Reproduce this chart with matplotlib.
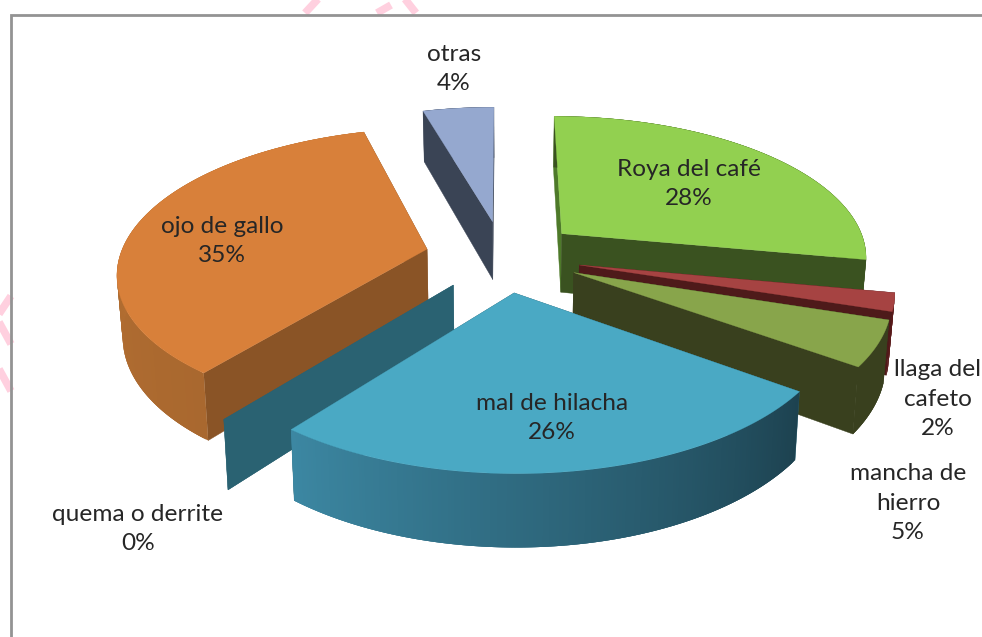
import numpy as np
import matplotlib
matplotlib.use("Agg")
import matplotlib.pyplot as plt
from matplotlib.colors import to_rgb

# ---- data (clockwise from 12 o'clock) ----
categories = ["Roya del café", "llaga del\ncafeto", "mancha de\nhierro",
              "mal de hilacha", "quema o derrite", "ojo de gallo", "otras"]
values = [28, 2, 5, 25.6, 0, 35, 4.4]

# ---- style ----
top_colors = ["#92D050", "#A64342", "#88A54B", "#4AA9C4", "#2A6272", "#D8803A", "#95A8CF"]
start_face = ["#4E7A2A", "#4E1A1A", "#39401E", "#2A6272", "#2A6272", "#8A5426", "#3A4455"]
end_face = ["#3A5220", "#4E1A1A", "#39401E", "#2A6272", "#2A6272", "#8A5426", "#3A4455"]
rim_from = ["#3A5220", "#5A1A1A", "#39401E", "#1D4250", "#2A6272", "#A9682F", "#3A4455"]
rim_to = ["#3A5220", "#5A1A1A", "#39401E", "#3C87A2", "#2A6272", "#BF7533", "#3A4455"]
label_xy = [(689, 184), (938, 399), (908, 503), (552, 418), (138, 529), (222, 241), (454, 69)]
draw_order = [6, 0, 5, 4, 1, 2, 3]

CX, CY, R, K, EXPL, HEIGHT, PERSP, TAPER = 503, 256, 307, 0.46, 78, 60, 0.15, 0.985

W, H = 982, 637
fig = plt.figure(figsize=(W / 100, H / 100), dpi=100, facecolor="white")
ax = fig.add_axes([0, 0, 1, 1])
ax.set_xlim(0, W)
ax.set_ylim(H, 0)
ax.axis("off")

# watermark fragments and frame
pink = "#FFD0DF"
for (xs, ys) in [((305, 318), (13, -1)), ((377, 391), (13, 5)), ((405, 416), (-1, 13)),
                 ((11, -1), (296, 314)), ((-1, 11), (322, 344)), ((-1, 11), (369, 391))]:
    ax.plot(xs, ys, color=pink, lw=5.5, solid_capstyle="butt", zorder=1)
ax.plot([983, 11.5, 11.5], [14.5, 14.5, 638], color="#939393", lw=2.0,
        solid_joinstyle="miter", zorder=2)


def project(x, y, low=False):
    s = 1 / (1 + PERSP * y / R)
    px = x * s * (TAPER if low else 1)
    py = -K * y * s + (HEIGHT * s if low else 0)
    return CX + px, CY + py


def poly(pts, color, z, lw=0.3):
    xs, ys = zip(*pts)
    ax.fill(xs, ys, facecolor=color, edgecolor=color if lw else "none", lw=lw, zorder=z)


total = sum(values)
ends = 90 - np.cumsum(values) * 360 / total
starts = np.r_[90, ends[:-1]]

z = 5
for i in draw_order:
    a0, a1 = starts[i], ends[i]
    mid = np.radians((a0 + a1) / 2)
    ox, oy = EXPL * np.cos(mid), EXPL * np.sin(mid)
    th = np.radians(np.linspace(a0, a1, max(2, int(abs(a0 - a1) * 2))))
    rx, ry = ox + R * np.cos(th), oy + R * np.sin(th)
    top = [project(a, b) for a, b in zip(rx, ry)]
    low = [project(a, b, True) for a, b in zip(rx, ry)]
    apex_t, apex_l = project(ox, oy), project(ox, oy, True)

    poly([apex_t, top[0], low[0], apex_l], start_face[i], z)
    poly([apex_t, top[-1], low[-1], apex_l], end_face[i], z)
    c0, c1 = np.array(to_rgb(rim_from[i])), np.array(to_rgb(rim_to[i]))
    n = len(top)
    for j in range(n - 1):
        t = j / max(1, n - 2)
        k = min(j + 3, n - 1)   # overlap neighbours so no seams show
        poly(top[j:k + 1] + low[j:k + 1][::-1], tuple(c0 + (c1 - c0) * t), z, lw=0)
    if a0 != a1:
        poly([apex_t] + top, top_colors[i], z + 0.5, lw=0.2)
    z += 1

for name, v, (x, y) in zip(categories, values, label_xy):
    ax.text(x, y, f"{name}\n{round(v)}%", ha="center", va="center", family="Lato",
            fontsize=17.6, color="#262626", linespacing=1.48, zorder=30)

fig.savefig("out.png", dpi=100, facecolor="white")
